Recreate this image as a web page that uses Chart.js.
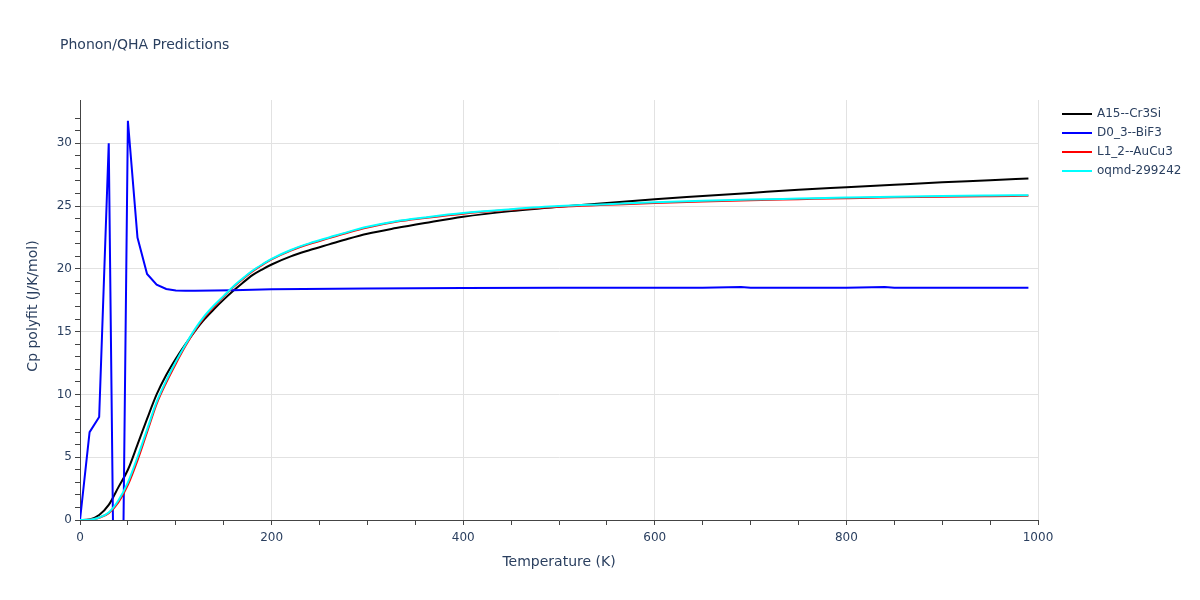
<!DOCTYPE html>
<html><head><meta charset="utf-8">
<script src="https://cdn.jsdelivr.net/npm/chart.js@4/dist/chart.umd.min.js"></script>
<style>html,body{margin:0;padding:0;background:#fff}#wrap{width:1200px;height:600px}</style>
</head><body><div id="wrap"><canvas id="c" width="1200" height="600"></canvas></div>
<script>
// ---- data ----
const temps = [0,10,20,30,40,50,60,70,80,90,100,110,120,130,140,150,160,170,180,190,200,220,240,260,280,300,330,360,400,450,500,550,600,650,700,750,800,850,900,950,990];
const cpA15 = [0,0.05,0.4,1.2,2.6,4.0,6.0,8.05,10.0,11.55,12.85,14.0,15.05,16.0,16.8,17.55,18.25,18.9,19.5,19.95,20.35,21.0,21.5,21.95,22.4,22.8,23.25,23.65,24.15,24.6,24.95,25.25,25.55,25.8,26.05,26.3,26.5,26.7,26.9,27.05,27.2];
const cpL12 = [0,0.02,0.18,0.55,1.4,2.8,4.75,7.0,9.25,10.95,12.45,13.85,15.1,16.15,17.0,17.8,18.55,19.2,19.8,20.3,20.75,21.45,22.0,22.45,22.9,23.3,23.75,24.05,24.4,24.7,24.95,25.1,25.25,25.37,25.47,25.55,25.63,25.7,25.75,25.79,25.82];
const cpOqmd = [0,0.02,0.2,0.6,1.55,3.0,5.0,7.2,9.4,11.1,12.6,13.95,15.2,16.25,17.1,17.85,18.6,19.25,19.85,20.35,20.8,21.5,22.05,22.5,22.95,23.35,23.8,24.1,24.45,24.75,25.0,25.15,25.3,25.42,25.52,25.6,25.68,25.75,25.8,25.84,25.87];
const tempsD03 = [0,10,20,30,40,50,60,70,80,90,100,110,120,140,160,200,300,400,500,600,650,690,700,800,840,850,900,990];
const cpD03 = [0,7.0,8.2,30.0,-38,31.8,22.5,19.6,18.75,18.4,18.28,18.25,18.25,18.28,18.3,18.38,18.43,18.48,18.5,18.5,18.5,18.55,18.5,18.5,18.55,18.5,18.5,18.5];
const seriesNames = ['A15--Cr3Si','D0_3--BiF3','L1_2--AuCu3','oqmd-299242'];
const seriesColors = ['#000000','#0000ff','#ff0000','#00ffff'];
const xTickLabels = [0,200,400,600,800,1000];
const yTickLabels = [0,5,10,15,20,25,30];

const FONT = '"DejaVu Sans", Verdana, sans-serif';
const TEXT = '#2a3f5f';
const pts = (xs, ys) => xs.map((x, i) => ({x: x, y: ys[i]}));

const overlay = {
  id: 'overlay',
  afterDraw(chart) {
    const ctx = chart.ctx, a = chart.chartArea;
    ctx.save();
    ctx.fillStyle = TEXT;
    ctx.textBaseline = 'middle';
    ctx.textAlign = 'left';
    ctx.font = '14px ' + FONT;
    ctx.fillText('Phonon/QHA Predictions', 60, 45);
    ctx.textAlign = 'center';
    ctx.fillText('Temperature (K)', (a.left + a.right) / 2, 562);
    ctx.save();
    ctx.translate(33, (a.top + a.bottom) / 2 - 4);
    ctx.rotate(-Math.PI / 2);
    ctx.fillText('Cp polyfit (J/K/mol)', 0, 0);
    ctx.restore();
    ctx.font = '12px ' + FONT;
    ctx.textAlign = 'left';
    chart.data.datasets.forEach((ds, i) => {
      const y = 114 + i * 19;
      ctx.strokeStyle = ds.borderColor;
      ctx.lineWidth = 2;
      ctx.beginPath(); ctx.moveTo(1062, y); ctx.lineTo(1092, y); ctx.stroke();
      ctx.fillStyle = TEXT;
      ctx.fillText(ds.label, 1097, y);
    });
    ctx.restore();
  }
};

new Chart(document.getElementById('c'), {
  type: 'line',
  data: {
    datasets: [
      {label: seriesNames[0], data: pts(temps, cpA15), borderColor: seriesColors[0], cubicInterpolationMode: 'monotone', order: 4},
      {label: seriesNames[1], data: pts(tempsD03, cpD03), borderColor: seriesColors[1], tension: 0, order: 3},
      {label: seriesNames[2], data: pts(temps, cpL12), borderColor: seriesColors[2], cubicInterpolationMode: 'monotone', order: 2},
      {label: seriesNames[3], data: pts(temps, cpOqmd), borderColor: seriesColors[3], cubicInterpolationMode: 'monotone', order: 1}
    ]
  },
  options: {
    responsive: false,
    devicePixelRatio: 1,
    animation: false,
    layout: {padding: {left: 0, top: 100, right: 162, bottom: 0}},
    elements: {point: {radius: 0}, line: {borderWidth: 2}},
    plugins: {legend: {display: false}, title: {display: false}, tooltip: {enabled: false}},
    scales: {
      x: {
        type: 'linear', min: 0, max: 1000,
        afterFit: s => { s.height = 80; },
        border: {display: true, color: '#444', width: 1},
        grid: {
          color: c => (c.tick && xTickLabels.includes(c.tick.value) && c.tick.value !== 0) ? '#e2e2e2' : 'rgba(0,0,0,0)',
          tickColor: '#444', tickLength: 5, drawTicks: true
        },
        ticks: {
          stepSize: 50, autoSkip: false, maxRotation: 0, padding: 6,
          color: TEXT, font: {family: FONT, size: 12},
          callback: v => xTickLabels.includes(v) ? String(v) : ''
        }
      },
      y: {
        type: 'linear', min: 0, max: 33.45,
        afterFit: s => { s.width = 80; },
        border: {display: true, color: '#444', width: 1},
        grid: {
          color: c => (c.tick && yTickLabels.includes(c.tick.value) && c.tick.value !== 0) ? '#e2e2e2' : 'rgba(0,0,0,0)',
          tickColor: c => (c.tick && Number.isInteger(c.tick.value)) ? '#444' : 'rgba(0,0,0,0)',
          tickLength: 5, drawTicks: true
        },
        ticks: {
          stepSize: 1, autoSkip: false, padding: 3,
          color: TEXT, font: {family: FONT, size: 12},
          callback: v => yTickLabels.includes(v) ? String(v) : ''
        }
      }
    }
  },
  plugins: [overlay]
});
</script></body></html>
